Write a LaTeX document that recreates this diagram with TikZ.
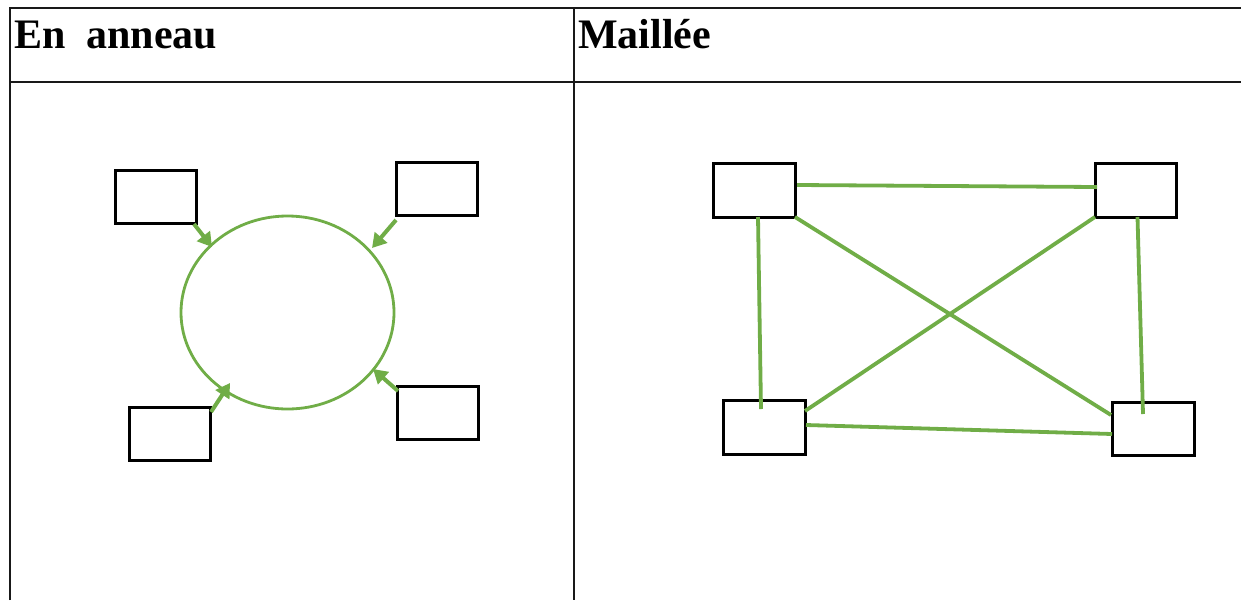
\documentclass[tikz,border=0pt]{standalone}
\usepackage{fontspec}
\setmainfont{Liberation Serif}
\usetikzlibrary{arrows.meta,shapes.geometric,calc}
\definecolor{grn}{HTML}{70AD47}
\begin{document}
\begin{tikzpicture}[x=1pt,y=-1pt,
  box/.style={draw=black,line width=3pt,minimum width=81pt,minimum height=53pt,inner sep=0pt,outer sep=0pt,anchor=north west},
  rule/.style={line width=2.5pt,draw=black!90},
  link/.style={draw=grn,line width=3.8pt},
  feed/.style={draw=grn,line width=4pt,-{Triangle[length=14pt,width=16pt]}},
  title/.style={anchor=base west,inner sep=0pt,font=\fontsize{42}{42}\selectfont\bfseries}]
\useasboundingbox (0,0) rectangle (1241,600);
% table
\draw[rule] (10,600) -- (10,8) -- (1241,8);
\draw[rule] (10,82) -- (1241,82);
\draw[rule] (574,8) -- (574,600);
\node[title] (t1) at (14,48) {En\ \ anneau};
\node[title] (t2) at (578,48) {Maillée};
% ring
\node[draw=grn,line width=2.8pt,ellipse,minimum width=213pt,minimum height=193pt,inner sep=0pt] (ring) at (287.5,312.5) {};
\node[box] (r1) at (115,170) {};
\node[box] (r2) at (396,162) {};
\node[box] (r3) at (129,407) {};
\node[box] (r4) at (397,386) {};
\coordinate (p1) at (212,247);
\coordinate (p2) at (372,248);
\coordinate (p3) at (230,383);
\coordinate (p4) at (373,369);
\draw[feed] ($(r1.south east)+(-2,1)$) -- (p1);
\draw[feed] ($(r2.south west)+(0,5)$) -- (p2);
\draw[feed] ($(r3.north east)+(1,5)$) -- (p3);
\draw[feed] ($(r4.north west)+(1,5)$) -- (p4);
% mesh
\node[box,minimum width=82pt,minimum height=54pt] (a) at (713,163) {};
\node[box,minimum width=81pt,minimum height=54pt] (b) at (1095,163) {};
\node[box,minimum width=82pt,minimum height=54pt] (c) at (723,400) {};
\node[box,minimum width=82pt,minimum height=53pt] (d) at (1112,402) {};
\draw[link] ($(a.east)+(2,-5)$) -- ($(b.west)+(2,-3)$);
\draw[link] ($(a.south)+(4,0)$) -- ($(c.north)+(-3,9)$);
\draw[link] (a.south east) -- ($(d.north west)+(-1,13)$);
\draw[link] (b.south west) -- ($(c.north east)+(0,11)$);
\draw[link] ($(b.south)+(2,0)$) -- ($(d.north)+(-10,12)$);
\draw[link] ($(c.east)+(1,-2)$) -- ($(d.west)+(0,5.5)$);
\end{tikzpicture}
\end{document}
